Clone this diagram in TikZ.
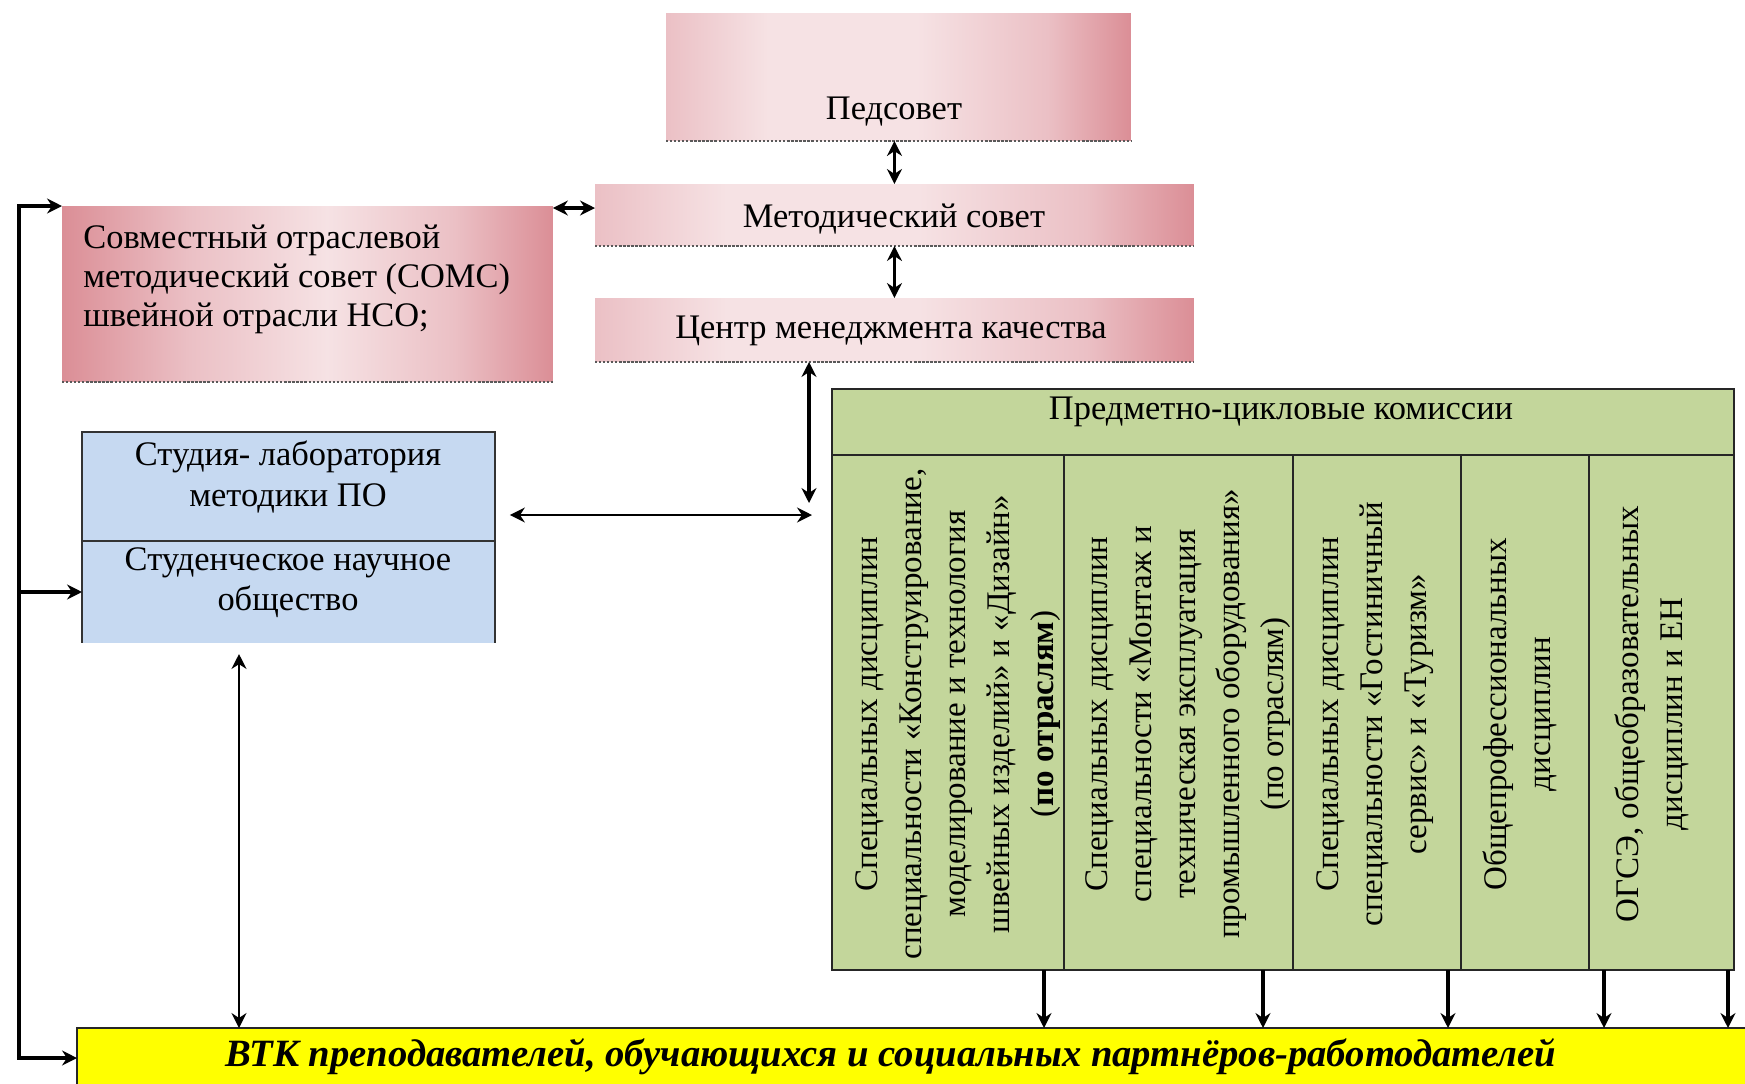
\documentclass[tikz,border=0pt]{standalone}
\usepackage{fontspec}
\setmainfont{Liberation Serif}
\usetikzlibrary{arrows.meta,calc}
\definecolor{pinkL}{RGB}{246,226,228}
\definecolor{pinkM}{RGB}{235,192,197}
\definecolor{pinkD}{RGB}{219,142,150}
\definecolor{blueF}{RGB}{198,217,241}
\definecolor{greenF}{RGB}{195,214,155}
\definecolor{yellowF}{RGB}{255,255,0}
\pgfdeclarehorizontalshading{pinkshA}{100bp}{color(0bp)=(pinkM); color(25bp)=(pinkM); color(36bp)=(pinkL); color(52bp)=(pinkL); color(66bp)=(pinkM); color(75bp)=(pinkD); color(100bp)=(pinkD)}
\pgfdeclarehorizontalshading{pinkshB}{100bp}{color(0bp)=(pinkD); color(25bp)=(pinkD); color(38bp)=(pinkM); color(52bp)=(pinkL); color(65bp)=(pinkM); color(75bp)=(pinkD); color(100bp)=(pinkD)}
\tikzset{
  pinkbox/.style={shading=pinkshA, inner sep=0pt, outer sep=0pt, anchor=north west},
  shadowline/.style={densely dotted, line width=1.3pt, black!65},
  bluebox/.style={fill=blueF, inner sep=0pt, outer sep=0pt, anchor=north west},
  blueline/.style={draw=black!80, line width=0.9pt},
  greenbox/.style={fill=greenF, draw=black!85, line width=0.9pt, inner sep=0pt, outer sep=0pt, anchor=north west},
  yellowbox/.style={fill=yellowF, draw=black!85, line width=0.9pt, inner sep=0pt, outer sep=0pt, anchor=north west},
  htext/.style={font=\fontsize{19.6}{23.5}\selectfont, inner sep=0pt, align=center},
  vtext/.style={font=\fontsize{18.8}{25}\selectfont, inner sep=0pt, align=center, rotate=90},
  ytext/.style={font=\fontsize{22}{25}\selectfont\bfseries\itshape, inner sep=0pt},
  tipA/.tip={Stealth[length=8.5pt,width=8.5pt]},
  dblthick/.style={tipA-tipA, line width=2pt},
  dblthin/.style={tipA-tipA, line width=1.5pt},
  busline/.style={line width=2.2pt, line cap=rect},
  busarrow/.style={-tipA, line width=2.2pt},
  downarrow/.style={-tipA, line width=2.4pt}
}
\begin{document}
\begin{tikzpicture}[x=0.02cm,y=-0.02cm]
\useasboundingbox (0,0) rectangle (1745,1083);
\fill[white] (0,0) rectangle (1745,1083);
\begin{scope}
\clip (0,0) rectangle (1745,1083);

% pink boxes
\node[pinkbox, minimum width=9.3cm, minimum height=2.56cm] (ped) at (666,13) {};
\node[pinkbox, minimum width=11.98cm, minimum height=1.24cm] (met) at (595,184) {};
\node[pinkbox, minimum width=11.98cm, minimum height=1.28cm] (cen) at (595,298) {};
\node[pinkbox, shading=pinkshB, minimum width=9.82cm, minimum height=3.52cm] (soms) at (62,206) {};
\foreach \b in {ped,met,cen,soms}{
  \draw[shadowline] (\b.south west) -- (\b.south east);
}
\node[htext] (pedt) at (894,112) {Педсовет};
\node[htext] (mett) at (894,219) {Методический совет};
\node[htext] (cent) at (891,331) {Центр менеджмента качества};
\node[htext, align=left, anchor=west, font=\fontsize{19.6}{22.2}\selectfont] (somst) at (83,279)
  {Совместный отраслевой\\методический совет (СОМС)\\швейной отрасли НСО;};

% blue box
\node[bluebox, minimum width=8.26cm, minimum height=2.18cm] (stud1) at (82,432) {};
\node[bluebox, minimum width=8.26cm, minimum height=2.04cm] (stud2) at (82,541) {};
\draw[blueline] (stud2.south west) -- (stud1.north west) -- (stud1.north east) -- (stud2.south east);
\draw[blueline] (stud1.south west) -- (stud1.south east);
\node[htext, font=\fontsize{19.6}{23.8}\selectfont] (stud1t) at (288,477) {Студия- лаборатория\\методики ПО};
\node[htext, font=\fontsize{19.6}{22.7}\selectfont] (stud2t) at (288,583) {Студенческое научное\\общество};

% green box
\node[greenbox, minimum width=18.04cm, minimum height=1.32cm] (hdr) at (832,389) {};
\node[greenbox, minimum width=4.64cm, minimum height=10.3cm] (c1) at (832,455) {};
\node[greenbox, minimum width=4.58cm, minimum height=10.3cm] (c2) at (1064,455) {};
\node[greenbox, minimum width=3.36cm, minimum height=10.3cm] (c3) at (1293,455) {};
\node[greenbox, minimum width=2.56cm, minimum height=10.3cm] (c4) at (1461,455) {};
\node[greenbox, minimum width=2.9cm, minimum height=10.3cm] (c5) at (1589,455) {};
\node[htext] (hdrt) at (1281,412) {Предметно-цикловые комиссии};
\node[vtext] (t1) at (958,714) {Специальных дисциплин\\специальности «Конструирование,\\моделирование и технология\\швейных изделий» и «Дизайн»\\(\textbf{по отраслям})};
\node[vtext] (t2) at (1188,714) {Специальных дисциплин\\специальности «Монтаж и\\техническая эксплуатация\\промышленного оборудования»\\(по отраслям)};
\node[vtext] (t3) at (1375,714) {Специальных дисциплин\\специальности «Гостиничный\\сервис» и «Туризм»};
\node[vtext] (t4) at (1520,714) {Общепрофессиональных\\дисциплин};
\node[vtext] (t5) at (1652,714) {ОГСЭ, общеобразовательных\\дисциплин и ЕН};

% yellow box
\node[yellowbox, minimum width=33.66cm, minimum height=1.44cm] (yel) at (77,1028) {};
\node[ytext] (yelt) at (891,1057) {ВТК преподавателей, обучающихся и социальных партнёров-работодателей};

% connectors
\draw[dblthick] (met.north |- ped.south) -- (met.north);
\draw[dblthick] (met.south) -- (cen.north);
\coordinate (sm) at ($(soms.north east)+(0,2)$);
\draw[dblthick] (sm) -- (sm -| met.west);

\coordinate (vx) at (809,503);
\draw[dblthick] (cen.south -| vx) -- (vx);
\coordinate (hy) at (0,515);
\draw[dblthin, shorten <=0.3cm, shorten >=0.4cm] (stud1.east |- hy) -- (hdr.west |- hy);

\coordinate (by) at (239,654);
\draw[dblthin] (by) -- (by |- yel.north);

% bus on the left
\coordinate (busT) at (19,206);
\coordinate (busB) at (19,1058);
\draw[busline] (busT) -- (busB);
\draw[busarrow] (busT) -- (busT -| soms.west);
\draw[busarrow] (busT |- stud2.west) -- (stud2.west);
\draw[busarrow] (busB) -- (busB -| yel.west);

% arrows from commissions to yellow box
\coordinate (d1) at (1044,970);
\coordinate (d2) at (1263,970);
\coordinate (d3) at (1448,970);
\coordinate (d4) at (1604,970);
\coordinate (d5) at (1728,970);
\foreach \d in {d1,d2,d3,d4,d5}{
  \draw[downarrow] (\d) -- (\d |- yel.north);
}
\end{scope}
\end{tikzpicture}
\end{document}
